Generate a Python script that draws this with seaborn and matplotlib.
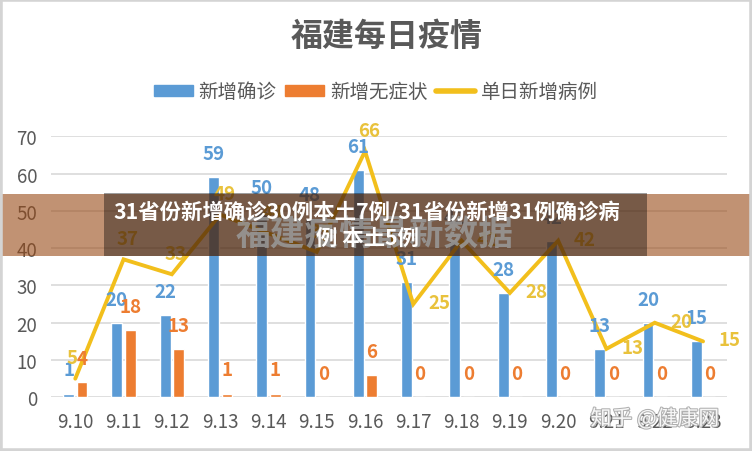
import numpy as np
import pandas as pd
import matplotlib
matplotlib.use("Agg")
import matplotlib.pyplot as plt
import matplotlib.patches as mpatches
import matplotlib.lines as mlines
import matplotlib.patheffects as pe
import seaborn as sns

# --- Data ---
dates = ["9.10", "9.11", "9.12", "9.13", "9.14", "9.15", "9.16",
         "9.17", "9.18", "9.19", "9.20", "9.21", "9.22", "9.23"]
confirmed = [1, 20, 22, 59, 50, 48, 61, 31, 42, 28, 42, 13, 20, 15]
asymptomatic = [4, 18, 13, 1, 1, 0, 6, 0, 0, 0, 0, 0, 0, 0]
daily_total = [5, 37, 33, 49, 44, 39, 66, 25, 42, 28, 42, 13, 20, 15]
series_names = ["新增确诊", "新增无症状", "单日新增病例"]

title = "福建每日疫情"
banner_lines = ["31省份新增确诊30例本土7例/31省份新增31例确诊病", "例 本土5例"]
watermark = "福建疫情最新数据"
corner_mark = "知乎 @健康网"

# --- Styles ---
BLUE = "#5B9BD5"
ORANGE = "#ED7D31"
YELLOW = "#F2BF1C"
YELLOW_TXT = "#E9C23C"
GREY = "#595959"

sns.set_theme(style="white")
plt.rcParams["font.family"] = ["Noto Sans CJK SC", "DejaVu Sans"]

df = pd.DataFrame({
    "日期": dates * 2,
    "数值": confirmed + asymptomatic,
    "类别": [series_names[0]] * len(dates) + [series_names[1]] * len(dates),
})

fig = plt.figure(figsize=(7.52, 4.52), dpi=100)
ax = fig.add_axes([0.068, 0.1188, 0.899, 0.5774])

sns.barplot(data=df, x="日期", y="数值", hue="类别", hue_order=series_names[:2],
            palette=[BLUE, ORANGE], width=0.56, gap=0.2, saturation=1,
            legend=False, ax=ax, zorder=2)

n = len(dates)
sns.lineplot(x=np.arange(n), y=daily_total, color=YELLOW, lw=2.8, ax=ax,
             zorder=3, solid_joinstyle="miter")

# bar labels
for cont, vals, col in zip(ax.containers, [confirmed, asymptomatic], [BLUE, ORANGE]):
    for bar, v in zip(cont, vals):
        ax.annotate(f"{v}", (bar.get_x() + bar.get_width() / 2, v),
                    xytext=(0, 17), textcoords="offset points",
                    ha="center", va="center", fontsize=13.5,
                    fontweight="bold", color=col, zorder=4)

# line labels: first week above the point, then to the right
for i, v in enumerate(daily_total):
    if i == 0:
        off, ha = (-2, 15), "center"
    elif i < 7:
        off, ha = (3, 15), "center"
    else:
        off, ha = (11, 1), "left"
    ax.annotate(f"{v}", (i, v), xytext=off, textcoords="offset points",
                ha=ha, va="center", fontsize=13.5, fontweight="bold",
                color=YELLOW_TXT, zorder=4)

ax.set_xlim(-0.5, n - 0.5)
ax.set_ylim(0, 70)
ax.set_yticks(range(0, 71, 10))
ax.set_xticks(range(n))
ax.set_xticklabels(dates)
ax.set_xlabel("")
ax.set_ylabel("")
ax.yaxis.grid(True, color="#D9D9D9", lw=1.2)
ax.set_axisbelow(True)
for s in ax.spines.values():
    s.set_visible(False)
ax.tick_params(axis="both", length=0, labelsize=13.5, colors=GREY)
ax.tick_params(axis="x", pad=10)
ax.tick_params(axis="y", pad=10)

# title and legend
fig.text(0.514, 1 - 37 / 452, title, ha="center", va="center",
         fontsize=23, fontweight="bold", color=GREY)
handles = [
    mpatches.Patch(color=BLUE, label=series_names[0]),
    mpatches.Patch(color=ORANGE, label=series_names[1]),
    mlines.Line2D([], [], color=YELLOW, lw=4, label=series_names[2]),
]
fig.legend(handles=handles, loc="center", bbox_to_anchor=(0.5, 1 - 93 / 452),
           ncol=3, frameon=False, fontsize=14, labelcolor=GREY,
           handlelength=2.0, handleheight=0.55, handletextpad=0.3,
           columnspacing=0.45)

# overlay banner
fig.patches.append(mpatches.Rectangle((0, 1 - 257 / 452), 1, 62 / 452,
                                      transform=fig.transFigure, color="#984916",
                                      alpha=0.6, lw=0, zorder=10))
fig.patches.append(mpatches.Rectangle((104 / 752, 1 - 257 / 452), 543 / 752, 63 / 452,
                                      transform=fig.transFigure, color="black",
                                      alpha=0.38, lw=0, zorder=11))
fig.text(375 / 752, 1 - 235 / 452, watermark, ha="center", va="center",
         fontsize=25, fontweight="bold", color="#9A9A9A", alpha=0.85, zorder=12)
fig.text(367 / 752, 1 - 212 / 452, banner_lines[0], ha="center", va="center",
         fontsize=15.4, fontweight="bold", color="white", zorder=13)
fig.text(367 / 752, 1 - 238 / 452, banner_lines[1], ha="center", va="center",
         fontsize=15.4, fontweight="bold", color="white", zorder=13)

fig.text(655 / 752, 1 - 420 / 452, corner_mark, ha="center", va="center",
         fontsize=15, color="white", alpha=0.9, zorder=13,
         path_effects=[pe.withStroke(linewidth=1.5, foreground="#a8a8a8")])

# light grey frame
fig.patches.append(mpatches.Rectangle((0, 0), 1, 1, transform=fig.transFigure,
                                      fill=False, ec="#D4D4D4", lw=4, zorder=20))

fig.savefig("out.png", dpi=100)
